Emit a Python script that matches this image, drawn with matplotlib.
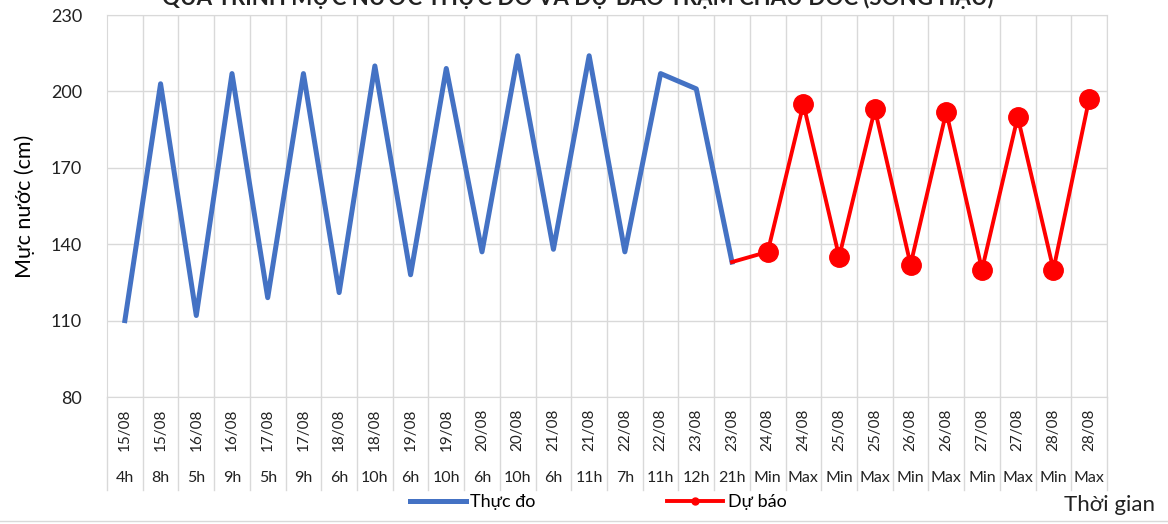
import matplotlib.pyplot as plt
from matplotlib.lines import Line2D

plt.rcParams['font.family'] = ['Lato', 'Noto Sans', 'DejaVu Sans']

# nhãn trục x (2 tầng)
ngay = ['15/08', '15/08', '16/08', '16/08', '17/08', '17/08', '18/08', '18/08',
        '19/08', '19/08', '20/08', '20/08', '21/08', '21/08', '22/08', '22/08',
        '23/08', '23/08', '24/08', '24/08', '25/08', '25/08', '26/08', '26/08',
        '27/08', '27/08', '28/08', '28/08']
gio = ['4h', '8h', '5h', '9h', '5h', '9h', '6h', '10h', '6h', '10h', '6h', '10h',
       '6h', '11h', '7h', '11h', '12h', '21h', 'Min', 'Max', 'Min', 'Max', 'Min',
       'Max', 'Min', 'Max', 'Min', 'Max']

# mực nước thực đo (cm)
thuc_do = [110, 203, 112, 207, 119, 207, 121, 210, 128, 209, 137, 214, 138, 214,
           137, 207, 201, 133]
# dự báo (cm), bắt đầu từ 23/08 21h
du_bao = [133, 137, 195, 135, 193, 132, 192, 130, 190, 130, 197]

W, H = 1168, 524
fig = plt.figure(figsize=(W / 100, H / 100), dpi=100)
ax = fig.add_axes([107 / W, 1 - 397 / H, 1000 / W, 382 / H])

n = len(ngay)
x_td = list(range(len(thuc_do)))
x_db = list(range(len(thuc_do) - 1, n))

ax.plot(x_td, thuc_do, color='#4472c4', lw=3.6, zorder=3)
ax.plot(x_db, du_bao, color='#ff0000', lw=2.8, marker='o', ms=14,
        markevery=list(range(1, len(du_bao))), zorder=4)

ax.set_xlim(-0.5, n - 0.5)
ax.set_ylim(80, 230)
ax.set_yticks([80, 110, 140, 170, 200, 230])
ax.tick_params(axis='y', length=0, pad=18, labelsize=13, colors='#222222')
ax.set_xticks([])
ax.set_ylabel('Mực nước (cm)', fontsize=15.5, labelpad=11)

ax.grid(axis='y', color='#d9d9d9', lw=1)
for k in range(n):
    ax.axvline(k + 0.5, color='#d9d9d9', lw=1, zorder=0)
for s in ax.spines.values():
    s.set_color('#d9d9d9')

# nhãn phân loại bên dưới trục
tr = ax.get_xaxis_transform()
y_sep = -(490 - 397) / 382
for k in range(n + 1):
    ax.add_line(Line2D([k - 0.5, k - 0.5], [0, y_sep], transform=tr,
                       color='#d9d9d9', lw=1, clip_on=False))
for k in range(n):
    ax.text(k, -(430 - 397) / 382, ngay[k], transform=tr, rotation=90,
            ha='center', va='center', fontsize=11, color='#222222')
    ax.text(k, -(478 - 397) / 382, gio[k], transform=tr,
            ha='center', va='center', fontsize=11.5, color='#222222')

# tiêu đề bị cắt phía trên
fig.text(578 / W, 1 - 5 / H, 'QUÁ TRÌNH MỰC NƯỚC THỰC ĐO VÀ DỰ BÁO TRẠM CHÂU ĐỐC (SÔNG HẬU)',
         ha='center', va='baseline', fontsize=16, fontweight='bold', color='#222222')

fig.text(1155 / W, 1 - 505 / H, 'Thời gian', ha='right', va='center',
         fontsize=16, color='#222222')

# viền dưới vùng biểu đồ
fig.add_artist(Line2D([0, 1], [1 - 521 / H, 1 - 521 / H], transform=fig.transFigure,
                      color='#d9d9d9', lw=1))

h1 = Line2D([], [], color='#4472c4', lw=3.6)
h2 = Line2D([], [], color='#ff0000', lw=2.8, marker='o', ms=5)
fig.legend([h1, h2], ['Thực đo', 'Dự báo'], loc='center', ncol=2,
           bbox_to_anchor=(598 / W, 1 - 502 / H), frameon=False, fontsize=13,
           handlelength=3.1, columnspacing=7.3, handletextpad=0.25,
           borderpad=0, borderaxespad=0)

fig.savefig('out.png', dpi=100)
